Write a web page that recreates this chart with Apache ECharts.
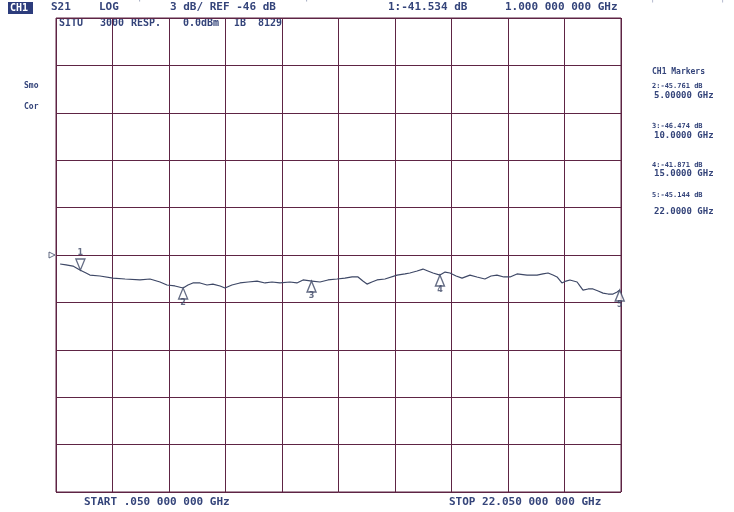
<!DOCTYPE html>
<html>
<head>
<meta charset="utf-8">
<script src="https://cdn.jsdelivr.net/npm/echarts@6/dist/echarts.min.js"></script>
<style>
html,body{margin:0;padding:0;background:#fff;}
#chart{width:734px;height:512px;}
</style>
</head>
<body>
<div id="chart"></div>
<script>
// ---- data ----
const startGHz = 0.05;
const stopGHz = 22.05;
const refLevelDB = -46;
const scaleDBperDiv = 3;
const divisions = 10;

const freqGHz = [0.21,0.44,0.71,0.98,1.22,1.37,1.76,2.27,2.74,3.32,3.71,4.10,4.37,4.68,5.00,5.19,5.38,5.66,5.93,6.16,6.44,6.63,6.90,7.21,7.53,7.88,8.19,8.46,8.77,9.16,9.43,9.67,10.02,10.33,10.64,10.99,11.30,11.58,11.81,12.00,12.16,12.35,12.55,12.86,13.33,13.64,13.83,14.11,14.34,14.53,14.73,15.00,15.20,15.39,15.63,15.86,16.17,16.44,16.75,16.99,17.22,17.49,17.73,18.00,18.39,18.78,19.01,19.21,19.40,19.56,19.75,19.91,20.06,20.34,20.45,20.57,20.77,20.96,21.16,21.35,21.55,21.74,21.90,22.00];
const s21dB = [-46.57,-46.63,-46.70,-46.95,-47.14,-47.27,-47.33,-47.46,-47.52,-47.58,-47.52,-47.71,-47.90,-47.96,-48.09,-47.90,-47.77,-47.77,-47.90,-47.84,-47.96,-48.09,-47.90,-47.77,-47.71,-47.65,-47.77,-47.71,-47.77,-47.71,-47.77,-47.58,-47.65,-47.71,-47.58,-47.52,-47.46,-47.39,-47.39,-47.65,-47.84,-47.71,-47.58,-47.52,-47.27,-47.20,-47.14,-47.01,-46.89,-47.01,-47.14,-47.27,-47.08,-47.14,-47.33,-47.46,-47.27,-47.39,-47.52,-47.33,-47.27,-47.39,-47.39,-47.20,-47.27,-47.27,-47.20,-47.14,-47.27,-47.39,-47.77,-47.65,-47.58,-47.71,-47.96,-48.22,-48.15,-48.15,-48.28,-48.41,-48.47,-48.47,-48.34,-48.22];

const markerNames = ['1','2','3','4','5'];
const markerFreqGHz = [1,5,10,15,22];
const markerDB = [-46.95,-48.09,-47.65,-47.27,-48.22];

const markerReadouts = ['2:-45.761 dB','3:-46.474 dB','4:-41.871 dB','5:-45.144 dB'];
const markerReadoutFreqs = ['5.00000 GHz','10.0000 GHz','15.0000 GHz','22.0000 GHz'];

// ---- chart ----
const topDB = refLevelDB + scaleDBperDiv * divisions / 2;
const botDB = refLevelDB - scaleDBperDiv * divisions / 2;
const gridColor = '#5e2444';
const traceColor = '#3e4866';
const textColor = '#34447a';
const mono = '"DejaVu Sans Mono", "Liberation Mono", monospace';

const chart = echarts.init(document.getElementById('chart'), null, {renderer:'canvas'});

function txt(x, y, s, size, color, bold) {
  return {
    type:'text', left:x, top:y - size/2 - 1, silent:true,
    style:{text:s, fill:color || textColor, font: (bold ? 'bold ' : '') + size + 'px ' + mono}
  };
}

const graphics = [
  {type:'rect', shape:{x:8,y:2,width:25,height:12}, style:{fill:'#2c3c7c'}, silent:true},
  {type:'text', left:10, top:3, silent:true, style:{text:'CH1', fill:'#ffffff', font:'bold 10px ' + mono}},
  txt(51, 8, 'S21', 11, null, true),
  txt(99, 8, 'LOG', 11, null, true),
  txt(137, 5, "'", 9, '#8a93b0'),
  txt(170, 8, scaleDBperDiv + ' dB/ REF ' + refLevelDB + ' dB', 11, null, true),
  txt(304, 5, "'", 9, '#8a93b0'),
  txt(388, 8, '1:-41.534 dB', 11, null, true),
  txt(505, 8, '1.000 000 000 GHz', 11, null, true),
  txt(650, 6, "'", 9, '#a0a6c0'),
  txt(720, 6, "'", 9, '#a0a6c0'),
  txt(59, 24, 'SITU', 10, null, true),
  txt(100, 24, '3000', 10, null, true),
  txt(131, 24, 'RESP.', 10, null, true),
  txt(183, 24, '0.0dBm', 10, null, true),
  txt(234, 24, 'IB', 10, null, true),
  txt(258, 24, '8129', 10, null, true),
  txt(24, 87, 'Smo', 8, null, true),
  txt(24, 108, 'Cor', 8, null, true),
  txt(652, 73, 'CH1 Markers', 8, null, true),
  txt(84, 503, 'START .050 000 000 GHz', 11, null, true),
  txt(449, 503, 'STOP 22.050 000 000 GHz', 11, null, true)
];
const readY = [87, 127, 166, 196];
const freqY = [97, 137, 175, 213];
for (let i = 0; i < markerReadouts.length; i++) {
  graphics.push(txt(652, readY[i], markerReadouts[i], 7, null, true));
  graphics.push(txt(654, freqY[i], markerReadoutFreqs[i], 9, null, true));
}

const gridAxisX = {
  type:'value', gridIndex:0, min:0, max:divisions, interval:1, position:'bottom',
  axisLine:{show:false}, axisTick:{show:false}, axisLabel:{show:false},
  splitLine:{show:true, lineStyle:{color:gridColor, width:1}}
};
const gridAxisY = {
  type:'value', gridIndex:0, min:0, max:divisions, interval:1,
  axisLine:{show:false}, axisTick:{show:false}, axisLabel:{show:false},
  splitLine:{show:true, lineStyle:{color:gridColor, width:1}}
};

const option = {
  animation:false,
  backgroundColor:'#ffffff',
  grid:{left:56, top:18, width:565, height:474, show:true, borderColor:gridColor, borderWidth:1, backgroundColor:'#ffffff'},
  xAxis:[
    {type:'value', min:startGHz, max:stopGHz, show:false},
    gridAxisX
  ],
  yAxis:[
    {type:'value', min:botDB, max:topDB, show:false},
    gridAxisY
  ],
  graphic:graphics,
  series:[
    {
      type:'line', xAxisIndex:0, yAxisIndex:0, symbol:'none', z:3,
      lineStyle:{color:traceColor, width:1.2},
      data: freqGHz.map((f,i)=>[f, s21dB[i]])
    },
    {
      type:'scatter', xAxisIndex:0, yAxisIndex:0, z:5,
      symbol:'path://M0,0 L10,0 L5,12 Z', symbolSize:[9,11], symbolOffset:[0,-5.5],
      itemStyle:{color:'#ffffff', borderColor:traceColor, borderWidth:1.4},
      label:{show:true, position:'top', distance:1, color:traceColor, fontSize:8, fontWeight:'bold', fontFamily:'DejaVu Sans', formatter:(p)=>markerNames[0]},
      data:[[markerFreqGHz[0], markerDB[0]]]
    },
    {
      type:'scatter', xAxisIndex:0, yAxisIndex:0, z:5,
      symbol:'path://M5,0 L10,12 L0,12 Z', symbolSize:[9,11], symbolOffset:[0,5.5],
      itemStyle:{color:'#ffffff', borderColor:traceColor, borderWidth:1.4},
      label:{show:true, position:'bottom', distance:-1, color:traceColor, fontSize:8, fontWeight:'bold', fontFamily:'DejaVu Sans', formatter:(p)=>markerNames[p.dataIndex+1]},
      data: markerFreqGHz.slice(1).map((f,i)=>[f, markerDB[i+1]])
    },
    {
      type:'scatter', xAxisIndex:0, yAxisIndex:0, z:5, clip:false,
      symbol:'path://M0,0 L8,4 L0,8 Z', symbolSize:[6,6], symbolOffset:[-4,0],
      itemStyle:{color:'#ffffff', borderColor:traceColor, borderWidth:1},
      data:[[startGHz, refLevelDB]]
    }
  ]
};
chart.setOption(option);
</script>
</body>
</html>
